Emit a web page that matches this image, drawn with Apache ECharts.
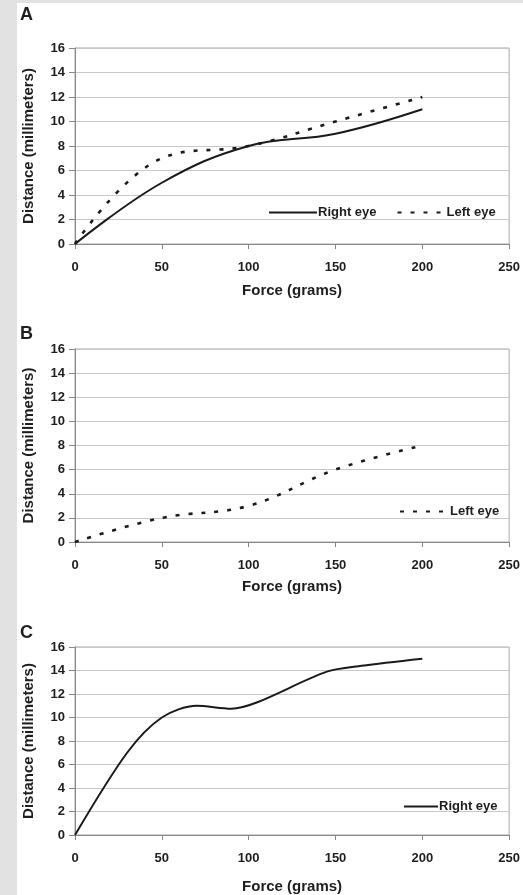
<!DOCTYPE html>
<html><head><meta charset="utf-8">
<script src="https://cdn.jsdelivr.net/npm/echarts@6/dist/echarts.min.js"></script>
<style>html,body{margin:0;padding:0;background:#fff;}#c{width:523px;height:895px;}</style>
</head><body><div id="c"></div>
<script>
// ---- data ----
const panelLabels = ['A', 'B', 'C'];
const xTitle = 'Force (grams)';
const yTitle = 'Distance (millimeters)';
const forceA = [0, 50, 100, 150, 200];
const rightEyeA = [0, 5, 8, 9, 11];
const leftEyeA = [0, 7, 8, 10, 12];
const forceB = [0, 50, 100, 150, 200];
const leftEyeB = [0, 2, 3, 6, 8];
const forceC = [0, 30, 50, 70, 90, 105, 145, 165, 200];
const rightEyeC = [0, 7, 10, 11, 10.75, 11.3, 13.9, 14.4, 15];

// ---- styles ----
const FF = '"Liberation Sans", Arial, Helvetica, sans-serif';
const TXT = '#1e1e1e';
const LINE = '#1a1a1a';
const pairs = (xs, ys) => xs.map((x, i) => [x, ys[i]]);

const grids = [
  {top: 48, height: 196, nameGap: 39},
  {top: 349, height: 193, nameGap: 37},
  {top: 647, height: 190, nameGap: 44}
];
const legendText = {fontSize: 13, fontWeight: 'bold', color: TXT, fontFamily: FF, padding: [0, 0, 0, -4]};

const chart = echarts.init(document.getElementById('c'));
const option = {
  backgroundColor: '#ffffff',
  animation: false,
  graphic: [
    {type: 'rect', shape: {x: 0, y: 0, width: 17, height: 895}, style: {fill: '#e2e2e2'}, z: -10},
    {type: 'rect', shape: {x: 0, y: 0, width: 523, height: 3}, style: {fill: '#e2e2e2'}, z: -10},
    {type: 'text', left: 20, top: 6, style: {text: panelLabels[0], font: 'bold 18px ' + FF, fill: TXT}},
    {type: 'text', left: 20, top: 325, style: {text: panelLabels[1], font: 'bold 18px ' + FF, fill: TXT}},
    {type: 'text', left: 20, top: 624, style: {text: panelLabels[2], font: 'bold 18px ' + FF, fill: TXT}}
  ],
  grid: grids.map(g => ({left: 75, right: 12, top: g.top, height: g.height, show: true,
    borderColor: '#a8a8a8', borderWidth: 1, backgroundColor: 'transparent'})),
  xAxis: grids.map((g, i) => ({
    gridIndex: i, type: 'value', min: 0, max: 250, interval: 50,
    name: xTitle, nameLocation: 'middle', nameGap: g.nameGap,
    nameTextStyle: {fontSize: 15, fontWeight: 'bold', color: TXT, fontFamily: FF},
    axisLine: {show: true, lineStyle: {color: '#888', width: 1}},
    axisTick: {show: true, length: 5, lineStyle: {color: '#888'}},
    splitLine: {show: false},
    axisLabel: {margin: 17, fontSize: 13, fontWeight: 'bold', color: TXT, fontFamily: FF}
  })),
  yAxis: grids.map((g, i) => ({
    gridIndex: i, type: 'value', min: 0, max: 16, interval: 2,
    name: yTitle, nameLocation: 'middle', nameGap: 39,
    nameTextStyle: {fontSize: 15, fontWeight: 'bold', color: TXT, fontFamily: FF},
    axisLine: {show: true, lineStyle: {color: '#888', width: 1}},
    axisTick: {show: true, length: 6, lineStyle: {color: '#888'}},
    splitLine: {show: true, lineStyle: {color: '#c8c8c8', width: 1}},
    axisLabel: {margin: 10, fontSize: 13, fontWeight: 'bold', color: TXT, fontFamily: FF}
  })),
  legend: [
    {data: ['Right eye', 'Left eye'], left: 263, top: 201, itemWidth: 48, itemHeight: 14, itemGap: 20,
      itemStyle: {opacity: 0}, textStyle: legendText},
    {data: ['Left eye'], left: 394, top: 500, itemWidth: 49, itemHeight: 14,
      itemStyle: {opacity: 0}, textStyle: legendText},
    {data: ['Right eye'], left: 398, top: 795, itemWidth: 34, itemHeight: 14,
      itemStyle: {opacity: 0}, textStyle: legendText}
  ],
  series: [
    {type: 'line', name: 'Right eye', xAxisIndex: 0, yAxisIndex: 0, data: pairs(forceA, rightEyeA),
      smooth: 0.4, symbol: 'none', lineStyle: {color: LINE, width: 2}, itemStyle: {color: LINE}},
    {type: 'line', name: 'Left eye', xAxisIndex: 0, yAxisIndex: 0, data: pairs(forceA, leftEyeA),
      smooth: 0.4, symbol: 'none', lineStyle: {color: LINE, width: 2.6, type: [4, 9]}, itemStyle: {color: LINE}},
    {type: 'line', name: 'Left eye', xAxisIndex: 1, yAxisIndex: 1, data: pairs(forceB, leftEyeB),
      smooth: 0.4, symbol: 'none', lineStyle: {color: LINE, width: 2.6, type: [4, 9]}, itemStyle: {color: LINE}},
    {type: 'line', name: 'Right eye', xAxisIndex: 2, yAxisIndex: 2, data: pairs(forceC, rightEyeC),
      smooth: 0.3, symbol: 'none', lineStyle: {color: LINE, width: 2}, itemStyle: {color: LINE}}
  ]
};
chart.setOption(option);
</script>
</body></html>
